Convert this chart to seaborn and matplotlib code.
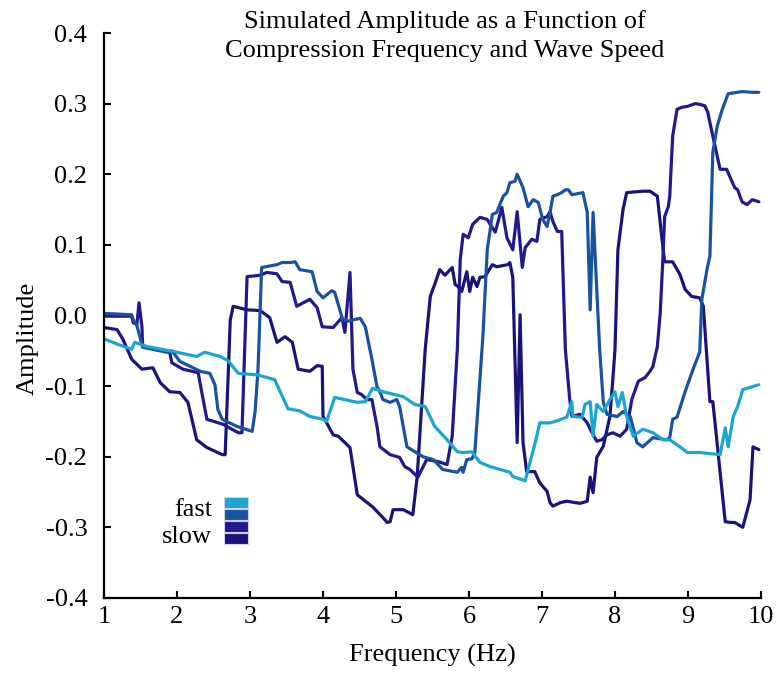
import numpy as np
import pandas as pd
import matplotlib
matplotlib.use("Agg")
import matplotlib.pyplot as plt
import seaborn as sns
from matplotlib.patches import Rectangle

# ---- data (frequency in Hz, amplitude) ----
fast_f = [1.00, 1.22, 1.38, 1.42, 1.59, 1.95, 2.27, 2.38, 2.59, 2.70, 2.84, 3.10, 3.34, 3.52,
          3.68, 3.82, 4.00, 4.05, 4.16, 4.47, 4.58, 4.68, 4.82, 5.10, 5.26, 5.40, 5.53, 5.70,
          5.84, 5.92, 6.04, 6.15, 6.29, 6.56, 6.60, 6.77, 6.81, 6.90, 6.97, 7.11, 7.21, 7.34,
          7.41, 7.42, 7.55, 7.59, 7.66, 7.70, 7.75, 7.84, 7.93, 8.00, 8.04, 8.10, 8.16, 8.25,
          8.38, 8.52, 8.66, 8.75, 8.89, 8.99, 9.16, 9.44, 9.51, 9.55, 9.62, 9.68, 9.75, 9.97]
fast_a = [-0.033, -0.042, -0.048, -0.038, -0.044, -0.051, -0.058, -0.052, -0.058, -0.064,
          -0.082, -0.084, -0.091, -0.132, -0.135, -0.143, -0.147, -0.150, -0.116, -0.123,
          -0.122, -0.103, -0.108, -0.115, -0.126, -0.129, -0.157, -0.176, -0.193, -0.194,
          -0.193, -0.208, -0.214, -0.222, -0.228, -0.234, -0.218, -0.183, -0.152, -0.152,
          -0.149, -0.144, -0.122, -0.143, -0.144, -0.126, -0.122, -0.171, -0.126, -0.136,
          -0.119, -0.108, -0.129, -0.109, -0.143, -0.171, -0.161, -0.166, -0.176, -0.176,
          -0.186, -0.194, -0.194, -0.197, -0.159, -0.186, -0.143, -0.129, -0.105, -0.098]

mid_f = [1.00, 1.38, 1.40, 1.45, 1.53, 1.86, 1.93, 2.04, 2.32, 2.45, 2.52, 2.56, 2.62, 2.82,
         3.03, 3.07, 3.11, 3.16, 3.37, 3.44, 3.55, 3.62, 3.68, 3.85, 3.92, 4.00, 4.12, 4.16,
         4.27, 4.34, 4.51, 4.58, 4.67, 4.74, 4.78, 4.82, 4.92, 5.01, 5.05, 5.15, 5.26, 5.37,
         5.51, 5.64, 5.84, 5.90, 5.92, 5.97, 6.04, 6.08, 6.19, 6.25, 6.32, 6.38, 6.47, 6.52,
         6.56, 6.63, 6.66, 6.74, 6.81, 6.88, 6.95, 7.01, 7.07, 7.11, 7.15, 7.21, 7.27, 7.32,
         7.36, 7.41, 7.56, 7.62, 7.66, 7.70, 7.75, 7.79, 7.84, 7.89, 8.03, 8.11, 8.21, 8.30,
         8.38, 8.52, 8.71, 8.75, 8.79, 8.85, 8.96, 9.07, 9.16, 9.19, 9.26, 9.30, 9.34, 9.40,
         9.47, 9.55, 9.67, 9.75, 9.88, 9.97]
mid_a = [0.003, 0.001, -0.006, -0.014, -0.045, -0.052, -0.050, -0.065, -0.079, -0.082,
         -0.098, -0.133, -0.147, -0.157, -0.164, -0.136, -0.076, 0.068, 0.072, 0.075, 0.075,
         0.076, 0.065, 0.062, 0.034, 0.025, 0.035, 0.033, -0.006, -0.008, -0.004, -0.016,
         -0.062, -0.101, -0.108, -0.119, -0.123, -0.119, -0.129, -0.186, -0.193, -0.200,
         -0.204, -0.218, -0.222, -0.215, -0.222, -0.204, -0.203, -0.194, -0.030, 0.093,
         0.143, 0.146, 0.169, 0.174, 0.188, 0.190, 0.200, 0.181, 0.154, 0.164, 0.160, 0.136,
         0.126, 0.146, 0.169, 0.171, 0.174, 0.178, 0.178, 0.171, 0.174, 0.146, 0.008, 0.146,
         0.037, -0.048, -0.123, -0.140, -0.143, -0.136, -0.143, -0.180, -0.186, -0.173,
         -0.176, -0.173, -0.147, -0.144, -0.108, -0.076, -0.052, 0.023, 0.065, 0.084, 0.231,
         0.268, 0.292, 0.314, 0.316, 0.317, 0.316, 0.316]

dark_f = [1.00, 1.38, 1.40, 1.45, 1.48, 1.52, 1.53, 1.90, 1.93, 2.08, 2.29, 2.34, 2.41, 2.63,
          2.84, 2.89, 2.96, 3.14, 3.23, 3.37, 3.44, 3.55, 3.64, 3.73, 3.82, 3.92, 3.99, 4.14,
          4.26, 4.30, 4.37, 4.41, 4.47, 4.53, 4.60, 4.67, 4.74, 4.78, 4.92, 5.05, 5.12, 5.19,
          5.30, 5.42, 5.58, 5.70, 5.77, 5.84, 5.88, 5.92, 5.99, 6.05, 6.15, 6.25, 6.29, 6.36,
          6.45, 6.52, 6.60, 6.66, 6.73, 6.77, 6.86, 6.93, 6.97, 7.07, 7.11, 7.15, 7.21, 7.27,
          7.32, 7.38, 7.41, 7.52, 7.62, 7.66, 7.75, 7.82, 7.89, 7.97, 8.07, 8.16, 8.23, 8.32,
          8.41, 8.48, 8.52, 8.58, 8.62, 8.66, 8.68, 8.73, 8.75, 8.79, 8.85, 8.92, 8.99, 9.10,
          9.16, 9.23, 9.27, 9.34, 9.44, 9.53, 9.58, 9.64, 9.68, 9.74, 9.81, 9.88, 9.97]
dark_a = [-0.001, -0.001, -0.010, -0.013, 0.018, -0.016, -0.044, -0.052, -0.067, -0.076,
          -0.081, -0.109, -0.147, -0.154, -0.166, -0.166, 0.055, 0.057, 0.061, 0.059, 0.048,
          0.047, 0.013, 0.018, 0.023, 0.011, -0.016, -0.017, -0.003, -0.024, 0.061, -0.076,
          -0.109, -0.112, -0.119, -0.119, -0.157, -0.186, -0.197, -0.201, -0.214, -0.218,
          -0.229, -0.204, -0.207, -0.211, -0.171, -0.048, 0.079, 0.115, 0.110, 0.129, 0.139,
          0.136, 0.129, 0.118, 0.153, 0.110, 0.093, 0.147, 0.068, 0.096, 0.108, 0.105, 0.136,
          0.140, 0.147, 0.133, 0.119, 0.119, -0.048, -0.119, -0.143, -0.140, -0.152, -0.161,
          -0.178, -0.176, -0.169, -0.166, -0.171, -0.161, -0.119, -0.093, -0.088, -0.079,
          -0.072, -0.044, 0.004, 0.089, 0.140, 0.154, 0.169, 0.254, 0.292, 0.295, 0.296,
          0.300, 0.299, 0.297, 0.288, 0.254, 0.207, 0.207, 0.195, 0.181, 0.178, 0.161, 0.157,
          0.164, 0.161]

slow_f = [1.00, 1.18, 1.26, 1.38, 1.52, 1.67, 1.77, 1.90, 2.04, 2.15, 2.27, 2.41, 2.62, 2.66,
          2.73, 2.77, 2.96, 3.14, 3.27, 3.37, 3.48, 3.58, 3.66, 3.82, 3.92, 3.99, 4.00, 4.05,
          4.14, 4.21, 4.30, 4.37, 4.47, 4.68, 4.81, 4.88, 4.92, 4.96, 5.10, 5.23, 5.29, 5.40,
          5.47, 5.53, 5.60, 5.67, 5.77, 5.81, 5.85, 5.90, 5.97, 6.01, 6.05, 6.11, 6.15, 6.22,
          6.32, 6.38, 6.53, 6.56, 6.60, 6.66, 6.70, 6.74, 6.79, 6.90, 6.97, 7.07, 7.11, 7.15,
          7.25, 7.34, 7.52, 7.62, 7.66, 7.70, 7.75, 7.84, 7.93, 7.97, 8.00, 8.04, 8.11, 8.16,
          8.38, 8.48, 8.58, 8.66, 8.68, 8.79, 8.89, 8.96, 9.05, 9.16, 9.21, 9.30, 9.34, 9.51,
          9.58, 9.64, 9.75, 9.85, 9.89, 9.97]
slow_a = [-0.017, -0.020, -0.034, -0.062, -0.076, -0.074, -0.095, -0.108, -0.109, -0.123,
          -0.176, -0.187, -0.197, -0.197, -0.006, 0.013, 0.008, 0.007, -0.003, -0.038,
          -0.030, -0.038, -0.076, -0.079, -0.071, -0.072, -0.143, -0.152, -0.169, -0.171,
          -0.180, -0.187, -0.254, -0.271, -0.285, -0.293, -0.292, -0.275, -0.275, -0.282,
          -0.229, -0.048, 0.027, 0.044, 0.065, 0.057, 0.068, 0.044, 0.041, 0.034, 0.062,
          0.034, 0.054, 0.041, 0.054, 0.055, 0.072, 0.069, 0.072, 0.075, 0.054, -0.180,
          0.001, -0.180, -0.221, -0.221, -0.237, -0.249, -0.265, -0.270, -0.265, -0.263,
          -0.266, -0.263, -0.229, -0.251, -0.201, -0.185, -0.143, -0.091, -0.048, 0.093,
          0.150, 0.174, 0.176, 0.176, 0.169, 0.093, 0.076, 0.076, 0.058, 0.037, 0.027, 0.025,
          0.013, -0.122, -0.122, -0.292, -0.293, -0.293, -0.300, -0.261, -0.186, -0.190]

x_ticks = [1, 2, 3, 4, 5, 6, 7, 8, 9, 10]
y_ticks = [-0.4, -0.3, -0.2, -0.1, 0.0, 0.1, 0.2, 0.3, 0.4]
y_tick_labels = ["-0.4", "-0.3", "-0.2", "-0.1", "0.0", "0.1", "0.2", "0.3", "0.4"]

series = [("slow", slow_f, slow_a, "#1a1479"),
          ("dark", dark_f, dark_a, "#221a8c"),
          ("mid", mid_f, mid_a, "#1a52a0"),
          ("fast", fast_f, fast_a, "#1ca5cf")]
legend_colors = ["#1ca5cf", "#1a52a0", "#221a8c", "#1a1479"]

# ---- style ----
sns.set_theme(style="white")
plt.rcParams['font.family'] = ['Liberation Serif', 'DejaVu Serif']
plt.rcParams['axes.unicode_minus'] = False
FS = 19

fig = plt.figure(figsize=(7.83, 6.75), dpi=100)
ax = fig.add_axes([0.1328, 0.1141, 0.8391, 0.8370])

for name, f, a, col in series:
    df = pd.DataFrame({"Frequency": f, "Amplitude": a})
    sns.lineplot(data=df, x="Frequency", y="Amplitude", ax=ax, color=col,
                 linewidth=2.3, sort=False, estimator=None)

ax.set_xlim(1, 10)
ax.set_ylim(-0.4, 0.4)
ax.set_xticks(x_ticks)
ax.set_yticks(y_ticks)
ax.set_yticklabels(y_tick_labels)

for s in ["top", "right"]:
    ax.spines[s].set_visible(False)
for s in ["left", "bottom"]:
    ax.spines[s].set_color("black")
    ax.spines[s].set_linewidth(1.6)

ax.tick_params(axis="both", direction="in", length=5, width=1.5, color="black",
               labelsize=FS, labelcolor="black")
ax.tick_params(axis="y", pad=12, left=True)
ax.tick_params(axis="x", pad=6, bottom=True)

ax.set_xlabel("Frequency (Hz)", fontsize=FS, color="black", labelpad=11)
ax.set_ylabel("Amplitude", fontsize=FS, color="black")
ax.yaxis.set_label_coords(-0.1, 0.46)

fig.text(0.568, 0.985, "Simulated Amplitude as a Function of\nCompression Frequency and Wave Speed",
         ha="center", va="top", fontsize=FS, color="black", linespacing=1.4)

# ---- hand-made legend ----
px_w, px_h = 657.0, 565.0
for i, c in enumerate(legend_colors):
    y0 = (598 - 508 - 12 * i) / px_h
    ax.add_patch(Rectangle(((224 - 104) / px_w, y0), 24 / px_w, 11 / px_h,
                           transform=ax.transAxes, facecolor=c,
                           edgecolor="#d0d0e8", linewidth=0.8, clip_on=False))
ax.text((212 - 104) / px_w, (598 - 516) / px_h, "fast", transform=ax.transAxes,
        ha="right", va="baseline", fontsize=FS, color="black")
ax.text((212 - 104) / px_w, (598 - 543) / px_h, "slow", transform=ax.transAxes,
        ha="right", va="baseline", fontsize=FS, color="black")

fig.savefig("out.png", dpi=100, facecolor="white")
